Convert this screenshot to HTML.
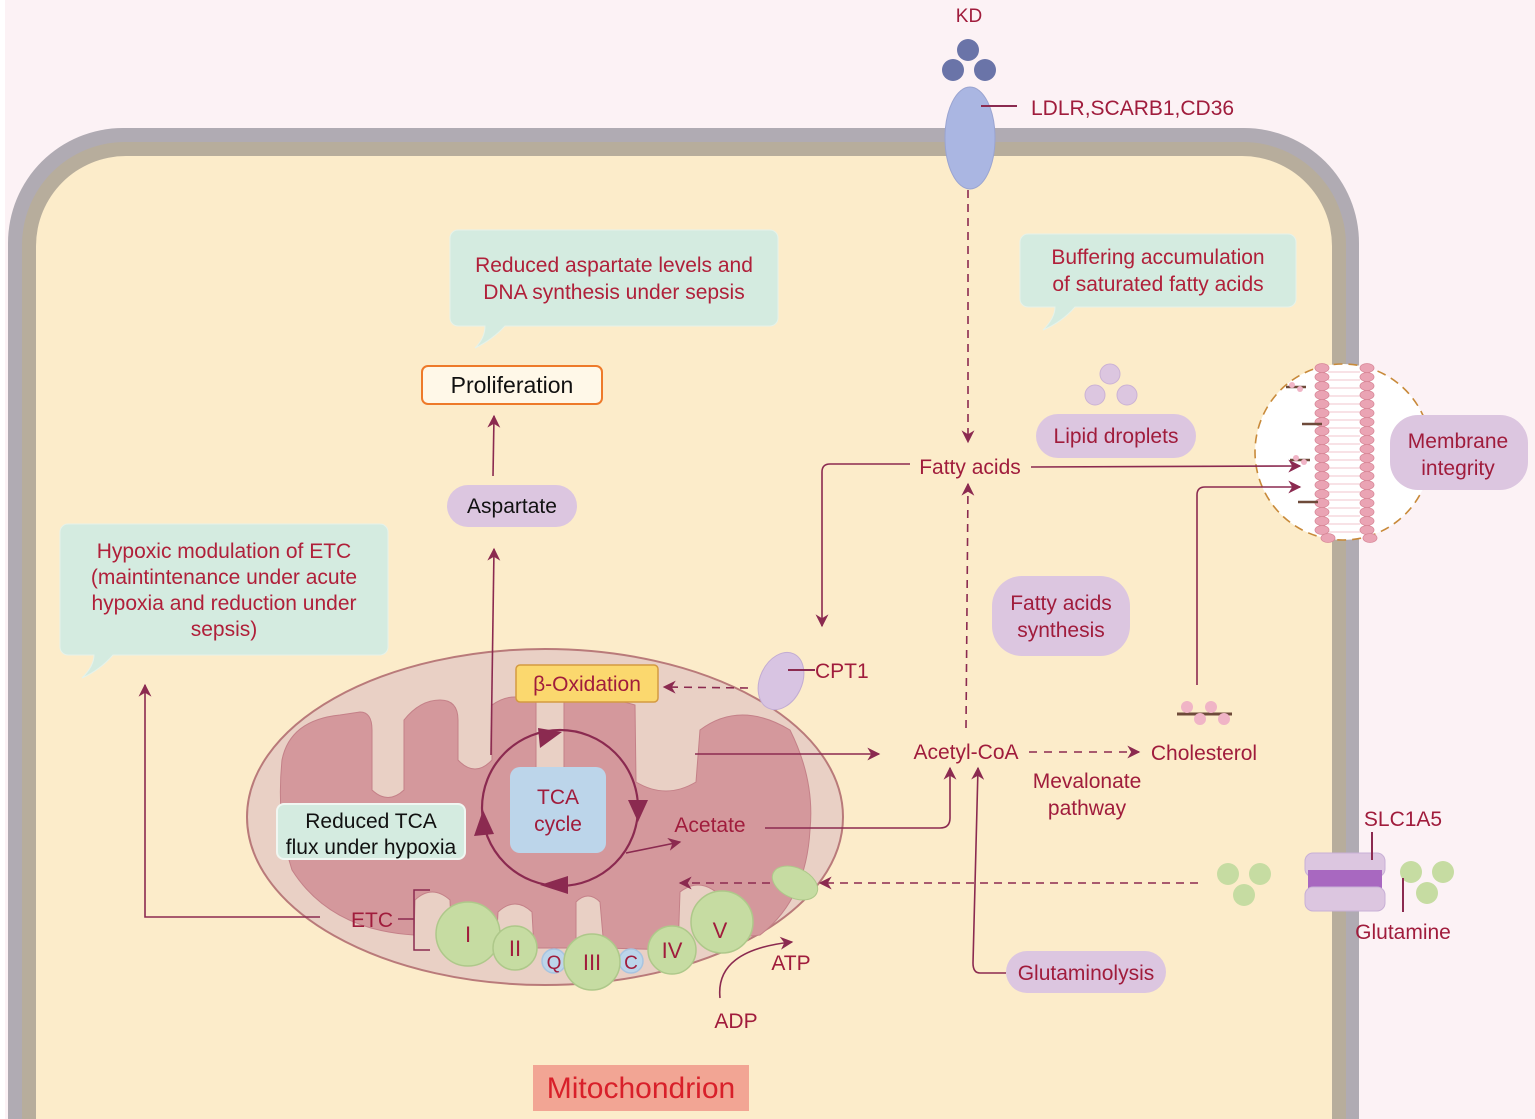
<!DOCTYPE html>
<html><head><meta charset="utf-8"><style>
html,body{margin:0;padding:0;background:#fcf2f5;width:1535px;height:1119px;overflow:hidden}
svg{display:block}
text{font-family:"Liberation Sans",sans-serif}
</style></head><body>
<svg width="1535" height="1119" viewBox="0 0 1535 1119" xmlns="http://www.w3.org/2000/svg">
<defs>
<marker id="ah" viewBox="0 0 10 10" refX="9" refY="5" markerWidth="13" markerHeight="13" markerUnits="userSpaceOnUse" orient="auto"><path d="M0,0 L10,5 L0,10 L3,5 z" fill="#8b2a50"/></marker>
<clipPath id="circ"><circle cx="1343" cy="452" r="88"/></clipPath>
</defs>
<rect x="0" y="0" width="1535" height="1119" fill="#fcf2f5"/>
<rect x="0" y="0" width="5" height="1119" fill="#fff"/>
<!-- cell -->
<path d="M8,1119 V243 A115,115 0 0 1 123,128 H1244 A115,115 0 0 1 1359,243 V1119 Z" fill="#b0abb3"/>
<path d="M22,1119 V245 A103,103 0 0 1 125,142 H1243 A103,103 0 0 1 1346,245 V1119 Z" fill="#b7ad9c"/>
<path d="M36,1119 V246 A90,90 0 0 1 126,156 H1242 A90,90 0 0 1 1332,246 V1119 Z" fill="#fcecca"/>

<!-- receptor & KD -->
<text x="969" y="22" font-size="19" fill="#a01c3c" text-anchor="middle">KD</text>
<circle cx="968" cy="50" r="11" fill="#6a74a8"/>
<circle cx="953" cy="70" r="11" fill="#6a74a8"/>
<circle cx="985" cy="70" r="11" fill="#6a74a8"/>
<ellipse cx="970" cy="138" rx="25" ry="51" fill="#aab6e2" stroke="#9aa4d0"/>
<line x1="981" y1="106" x2="1017" y2="106" stroke="#8b2a50" stroke-width="2"/>
<text x="1031" y="115" font-size="21" fill="#a01c3c">LDLR,SCARB1,CD36</text>
<line x1="968" y1="190" x2="968" y2="442" stroke="#8b2a50" stroke-width="1.6" stroke-dasharray="8,6" marker-end="url(#ah)"/>

<!-- callouts -->
<path d="M460,230 H770 a8,8 0 0 1 8,8 V318 a8,8 0 0 1 -8,8 H505 Q492,340 475,348 Q485,338 485,326 H458 a8,8 0 0 1 -8,-8 V238 a8,8 0 0 1 8,-8z" fill="#d4ebe0" stroke="#e6f2ea"/>
<text x="614" y="272" font-size="21" fill="#b0203a" text-anchor="middle">Reduced aspartate levels and</text>
<text x="614" y="299" font-size="21" fill="#b0203a" text-anchor="middle">DNA synthesis under sepsis</text>

<path d="M1028,234 H1288 a8,8 0 0 1 8,8 V299 a8,8 0 0 1 -8,8 H1075 Q1062,322 1043,330 Q1055,318 1055,307 H1028 a8,8 0 0 1 -8,-8 V242 a8,8 0 0 1 8,-8z" fill="#d4ebe0" stroke="#e6f2ea"/>
<text x="1158" y="264" font-size="21" fill="#b0203a" text-anchor="middle">Buffering accumulation</text>
<text x="1158" y="291" font-size="21" fill="#b0203a" text-anchor="middle">of saturated fatty acids</text>

<path d="M68,524 H380 a8,8 0 0 1 8,8 V647 a8,8 0 0 1 -8,8 H113 Q100,670 82,678 Q94,666 94,655 H68 a8,8 0 0 1 -8,-8 V532 a8,8 0 0 1 8,-8z" fill="#d4ebe0" stroke="#e6f2ea"/>
<text x="224" y="558" font-size="21" fill="#b0203a" text-anchor="middle">Hypoxic modulation of ETC</text>
<text x="224" y="584" font-size="21" fill="#b0203a" text-anchor="middle">(maintintenance under acute</text>
<text x="224" y="610" font-size="21" fill="#b0203a" text-anchor="middle">hypoxia and reduction under</text>
<text x="224" y="636" font-size="21" fill="#b0203a" text-anchor="middle">sepsis)</text>

<!-- proliferation -->
<rect x="422" y="366" width="180" height="38" rx="6" fill="#fff8e8" stroke="#ee7a2a" stroke-width="2"/>
<text x="512" y="393" font-size="23" fill="#111" text-anchor="middle">Proliferation</text>
<line x1="493" y1="476" x2="494" y2="416" stroke="#8b2a50" stroke-width="1.6" marker-end="url(#ah)"/>
<rect x="447" y="485" width="130" height="42" rx="21" fill="#dcc6e0"/>
<text x="512" y="513" font-size="21" fill="#111" text-anchor="middle">Aspartate</text>

<!-- mitochondrion -->
<ellipse cx="545" cy="817" rx="298" ry="168" fill="#e9d0c5" stroke="#b97a7a" stroke-width="2"/>
<path d="M282,760 Q290,720 340,715 L360,712 Q372,712 372,730 L372,790 Q388,805 404,790 L404,720 Q420,700 440,700 Q458,700 458,720 L458,760 Q475,778 492,760 L492,705 Q510,692 530,700 L536,700 L536,770 Q550,780 564,770 L564,700 Q600,694 635,705 L636,782 Q666,800 696,782 L700,730 Q740,700 790,730 Q815,780 810,830 Q806,900 760,935 L716,940 L716,892 Q698,878 680,892 L678,950 L604,948 L600,902 Q588,890 576,902 L576,948 L534,948 L532,912 Q515,896 498,912 L496,948 L452,948 L450,900 Q432,884 415,900 L414,935 Q330,930 292,870 Q276,820 282,760z" fill="#d4989c" stroke="#c48088" stroke-width="1"/>
<!-- TCA -->
<circle cx="560" cy="808" r="78" fill="none" stroke="#8b2a50" stroke-width="2.2"/>
<path d="M538,728 L562,732 L540,748z" fill="#8b2a50"/>
<path d="M628,800 L638,822 L648,800z" fill="#8b2a50"/>
<path d="M568,876 L540,885 L568,894z" fill="#8b2a50"/>
<path d="M474,836 L483,810 L494,834z" fill="#8b2a50"/>
<rect x="510" y="767" width="96" height="86" rx="10" fill="#bcd5ea"/>
<text x="558" y="804" font-size="21" fill="#a01c3c" text-anchor="middle">TCA</text>
<text x="558" y="831" font-size="21" fill="#a01c3c" text-anchor="middle">cycle</text>
<line x1="626" y1="853" x2="680" y2="842" stroke="#8b2a50" stroke-width="1.6" marker-end="url(#ah)"/>
<text x="710" y="832" font-size="21" fill="#a01c3c" text-anchor="middle">Acetate</text>
<rect x="277" y="804" width="188" height="55" rx="7" fill="#d4ebe0" stroke="#f0f7f2" stroke-width="2"/>
<text x="371" y="828" font-size="21" fill="#111" text-anchor="middle">Reduced TCA</text>
<text x="371" y="854" font-size="21" fill="#111" text-anchor="middle">flux under hypoxia</text>
<rect x="516" y="665" width="142" height="37" rx="4" fill="#fbd86e" stroke="#d49a40" stroke-width="1.5"/>
<text x="587" y="691" font-size="21" fill="#a01c3c" text-anchor="middle">β-Oxidation</text>
<line x1="748" y1="688" x2="664" y2="687" stroke="#8b2a50" stroke-width="1.6" stroke-dasharray="8,6" marker-end="url(#ah)"/>
<ellipse cx="781" cy="681" rx="21" ry="30" transform="rotate(25 781 681)" fill="#d8c4e2" stroke="#c2acd2"/>
<line x1="788" y1="670" x2="815" y2="670" stroke="#8b2a50" stroke-width="2"/>
<text x="815" y="678" font-size="21" fill="#a01c3c">CPT1</text>
<!-- ETC -->
<text x="372" y="927" font-size="21" fill="#a01c3c" text-anchor="middle">ETC</text>
<path d="M398,919 H414 M430,890 H414 V950 H430" fill="none" stroke="#8b2a50" stroke-width="1.5"/>
<g fill="#c6dca2" stroke="#aec88a" stroke-width="1.5">
<circle cx="468" cy="934" r="32"/>
<circle cx="515" cy="948" r="22"/>
<circle cx="554" cy="961" r="12" fill="#bcd5ea" stroke="#a8c4e0"/>
<circle cx="631" cy="961" r="12" fill="#bcd5ea" stroke="#a8c4e0"/>
<circle cx="592" cy="962" r="28"/>
<circle cx="672" cy="950" r="24"/>
<circle cx="722" cy="922" r="31"/>
</g>
<g font-family="Liberation Serif,serif" font-size="22" fill="#a01c3c" text-anchor="middle">
<text x="468" y="942">I</text><text x="515" y="956">II</text><text x="554" y="969" font-family="Liberation Sans" font-size="19">Q</text>
<text x="592" y="970">III</text><text x="631" y="969" font-family="Liberation Sans" font-size="19">C</text>
<text x="672" y="958">IV</text><text x="720" y="938">V</text>
</g>
<path d="M720,998 Q715,950 792,942" fill="none" stroke="#8b2a50" stroke-width="1.6" marker-end="url(#ah)"/>
<text x="791" y="970" font-size="21" fill="#a01c3c" text-anchor="middle">ATP</text>
<text x="736" y="1028" font-size="21" fill="#a01c3c" text-anchor="middle">ADP</text>
<ellipse cx="795" cy="883" rx="24" ry="15" transform="rotate(25 795 883)" fill="#c6dca2" stroke="#aec88a"/>
<line x1="770" y1="883" x2="680" y2="883" stroke="#8b2a50" stroke-width="1.6" stroke-dasharray="8,6" marker-end="url(#ah)"/>
<line x1="1198" y1="883" x2="820" y2="883" stroke="#8b2a50" stroke-width="1.6" stroke-dasharray="8,6" marker-end="url(#ah)"/>

<path d="M320,917 H145 V685" fill="none" stroke="#8b2a50" stroke-width="1.6" marker-end="url(#ah)"/>
<line x1="491" y1="755" x2="494" y2="549" stroke="#8b2a50" stroke-width="1.6" marker-end="url(#ah)"/>
<line x1="695" y1="754" x2="879" y2="754" stroke="#8b2a50" stroke-width="1.6" marker-end="url(#ah)"/>
<path d="M765,828 H940 Q950,828 950,818 V768" fill="none" stroke="#8b2a50" stroke-width="1.6" marker-end="url(#ah)"/>
<path d="M1006,973 H980 Q973,973 973,963 L978,768" fill="none" stroke="#8b2a50" stroke-width="1.6" marker-end="url(#ah)"/>

<text x="966" y="759" font-size="21" fill="#a01c3c" text-anchor="middle">Acetyl-CoA</text>
<line x1="1029" y1="752" x2="1139" y2="752" stroke="#8b2a50" stroke-width="1.6" stroke-dasharray="8,7" marker-end="url(#ah)"/>
<text x="1087" y="788" font-size="21" fill="#a01c3c" text-anchor="middle">Mevalonate</text>
<text x="1087" y="815" font-size="21" fill="#a01c3c" text-anchor="middle">pathway</text>
<text x="1204" y="760" font-size="21" fill="#a01c3c" text-anchor="middle">Cholesterol</text>
<line x1="1177" y1="714" x2="1232" y2="714" stroke="#6e4a3a" stroke-width="3"/>
<g fill="#f0b4c6"><circle cx="1187" cy="707" r="6"/><circle cx="1211" cy="707" r="6"/><circle cx="1200" cy="719" r="6"/><circle cx="1224" cy="719" r="6"/></g>
<line x1="966" y1="728" x2="968" y2="484" stroke="#8b2a50" stroke-width="1.6" stroke-dasharray="8,6" marker-end="url(#ah)"/>
<text x="970" y="474" font-size="21" fill="#a01c3c" text-anchor="middle">Fatty acids</text>
<path d="M910,464 H830 Q822,464 822,472 V626" fill="none" stroke="#8b2a50" stroke-width="1.6" marker-end="url(#ah)"/>

<rect x="992" y="576" width="138" height="80" rx="30" fill="#dcc6e0"/>
<text x="1061" y="610" font-size="21" fill="#a01c3c" text-anchor="middle">Fatty acids</text>
<text x="1061" y="637" font-size="21" fill="#a01c3c" text-anchor="middle">synthesis</text>
<rect x="1036" y="414" width="160" height="44" rx="22" fill="#dcc6e0"/>
<text x="1116" y="443" font-size="21" fill="#a01c3c" text-anchor="middle">Lipid droplets</text>
<g fill="#dcc6e0" stroke="#cbb2d4"><circle cx="1110" cy="374" r="10"/><circle cx="1095" cy="395" r="10"/><circle cx="1127" cy="395" r="10"/></g>
<rect x="1006" y="951" width="160" height="42" rx="21" fill="#dcc6e0"/>
<text x="1086" y="980" font-size="21" fill="#a01c3c" text-anchor="middle">Glutaminolysis</text>

<!-- membrane inset -->
<circle cx="1343" cy="452" r="88" fill="#fff" stroke="#c88a3a" stroke-width="1.6" stroke-dasharray="9,6"/>
<g clip-path="url(#circ)">
<g stroke="#f0c4cc" stroke-width="1">
<path d="M1328,372 H1360 M1328,380 H1360 M1328,388 H1360 M1328,396 H1360 M1328,404 H1360 M1328,412 H1360 M1328,420 H1360 M1328,428 H1360 M1328,436 H1360 M1328,444 H1360 M1328,452 H1360 M1328,460 H1360 M1328,468 H1360 M1328,476 H1360 M1328,484 H1360 M1328,492 H1360 M1328,500 H1360 M1328,508 H1360 M1328,516 H1360 M1328,524 H1360 M1328,532 H1360"/>
</g>
</g>
<g fill="#eaa4b4" stroke="#d88898" stroke-width="0.8">
<ellipse cx="1322" cy="368" rx="7" ry="4.5"/><ellipse cx="1322" cy="377" rx="7" ry="4.5"/><ellipse cx="1322" cy="386" rx="7" ry="4.5"/><ellipse cx="1322" cy="395" rx="7" ry="4.5"/><ellipse cx="1322" cy="404" rx="7" ry="4.5"/><ellipse cx="1322" cy="413" rx="7" ry="4.5"/><ellipse cx="1322" cy="422" rx="7" ry="4.5"/><ellipse cx="1322" cy="431" rx="7" ry="4.5"/><ellipse cx="1322" cy="440" rx="7" ry="4.5"/><ellipse cx="1322" cy="449" rx="7" ry="4.5"/><ellipse cx="1322" cy="458" rx="7" ry="4.5"/><ellipse cx="1322" cy="467" rx="7" ry="4.5"/><ellipse cx="1322" cy="476" rx="7" ry="4.5"/><ellipse cx="1322" cy="485" rx="7" ry="4.5"/><ellipse cx="1322" cy="494" rx="7" ry="4.5"/><ellipse cx="1322" cy="503" rx="7" ry="4.5"/><ellipse cx="1322" cy="512" rx="7" ry="4.5"/><ellipse cx="1322" cy="521" rx="7" ry="4.5"/><ellipse cx="1322" cy="530" rx="7" ry="4.5"/><ellipse cx="1328" cy="538" rx="7" ry="4.5"/>
<ellipse cx="1367" cy="368" rx="7" ry="4.5"/><ellipse cx="1367" cy="377" rx="7" ry="4.5"/><ellipse cx="1367" cy="386" rx="7" ry="4.5"/><ellipse cx="1367" cy="395" rx="7" ry="4.5"/><ellipse cx="1367" cy="404" rx="7" ry="4.5"/><ellipse cx="1367" cy="413" rx="7" ry="4.5"/><ellipse cx="1367" cy="422" rx="7" ry="4.5"/><ellipse cx="1367" cy="431" rx="7" ry="4.5"/><ellipse cx="1367" cy="440" rx="7" ry="4.5"/><ellipse cx="1367" cy="449" rx="7" ry="4.5"/><ellipse cx="1367" cy="458" rx="7" ry="4.5"/><ellipse cx="1367" cy="467" rx="7" ry="4.5"/><ellipse cx="1367" cy="476" rx="7" ry="4.5"/><ellipse cx="1367" cy="485" rx="7" ry="4.5"/><ellipse cx="1367" cy="494" rx="7" ry="4.5"/><ellipse cx="1367" cy="503" rx="7" ry="4.5"/><ellipse cx="1367" cy="512" rx="7" ry="4.5"/><ellipse cx="1367" cy="521" rx="7" ry="4.5"/><ellipse cx="1367" cy="530" rx="7" ry="4.5"/><ellipse cx="1370" cy="538" rx="7" ry="4.5"/>
</g>
<g stroke="#6e4a3a" stroke-width="2.5"><line x1="1286" y1="387" x2="1306" y2="387"/><line x1="1302" y1="424" x2="1322" y2="424"/><line x1="1290" y1="460" x2="1310" y2="460"/><line x1="1298" y1="502" x2="1318" y2="502"/></g>
<g fill="#f0b4c6"><circle cx="1292" cy="385" r="3"/><circle cx="1300" cy="389" r="3"/><circle cx="1296" cy="458" r="3"/><circle cx="1304" cy="462" r="3"/></g>
<line x1="1031" y1="467" x2="1300" y2="466" stroke="#8b2a50" stroke-width="1.6" marker-end="url(#ah)"/>
<path d="M1197,685 V495 Q1197,487 1205,487 H1300" fill="none" stroke="#8b2a50" stroke-width="1.6" marker-end="url(#ah)"/>

<rect x="1390" y="415" width="138" height="75" rx="28" fill="#dcc6e0"/>
<text x="1458" y="448" font-size="21" fill="#a01c3c" text-anchor="middle">Membrane</text>
<text x="1458" y="475" font-size="21" fill="#a01c3c" text-anchor="middle">integrity</text>

<!-- SLC1A5 -->
<rect x="1305" y="853" width="80" height="24" rx="8" fill="#dcc6e0" stroke="#c8b0d6"/>
<rect x="1308" y="870" width="74" height="22" fill="#a868c0"/>
<rect x="1305" y="887" width="80" height="24" rx="8" fill="#dcc6e0" stroke="#c8b0d6"/>
<line x1="1372" y1="832" x2="1372" y2="860" stroke="#8b2a50" stroke-width="2"/>
<text x="1403" y="826" font-size="21" fill="#a01c3c" text-anchor="middle">SLC1A5</text>
<g fill="#c6dca2"><circle cx="1228" cy="874" r="11"/><circle cx="1260" cy="874" r="11"/><circle cx="1244" cy="895" r="11"/>
<circle cx="1411" cy="872" r="11"/><circle cx="1443" cy="872" r="11"/><circle cx="1427" cy="893" r="11"/></g>
<line x1="1403" y1="878" x2="1403" y2="912" stroke="#8b2a50" stroke-width="2"/>
<text x="1403" y="939" font-size="21" fill="#a01c3c" text-anchor="middle">Glutamine</text>

<!-- label -->
<rect x="533" y="1065" width="216" height="46" fill="#f2a594"/>
<text x="641" y="1098" font-size="30" fill="#d8202a" text-anchor="middle">Mitochondrion</text>
</svg>
</body></html>
